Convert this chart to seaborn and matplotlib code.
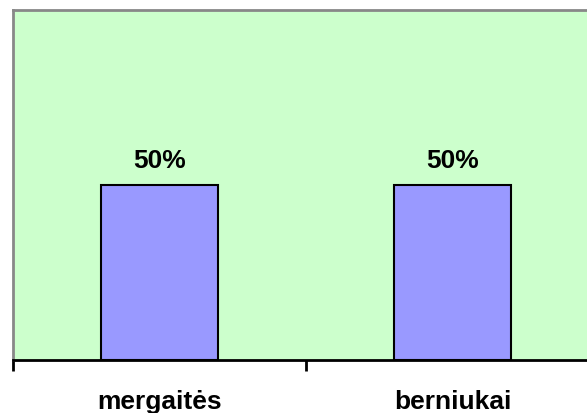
import matplotlib
matplotlib.use("Agg")
import matplotlib.pyplot as plt
import seaborn as sns
import pandas as pd

categories = ["mergaitės", "berniukai"]
values = [0.5, 0.5]
value_labels = ["50%", "50%"]

sns.set_theme(style="white")
plt.rcParams['font.family'] = ['Liberation Sans', 'DejaVu Sans']
plt.rcParams['text.color'] = 'black'
plt.rcParams['xtick.color'] = 'black'

W, H = 587, 414
fig = plt.figure(figsize=(W / 100, H / 100), dpi=100)
ax = fig.add_axes([13 / W, (H - 361) / H, 586 / W, 350 / H])
ax.set_facecolor("#CCFFCC")

df = pd.DataFrame({"cat": categories, "val": values})
sns.barplot(data=df, x="cat", y="val", ax=ax, color="#9999FF", saturation=1,
            width=0.4, edgecolor="black", linewidth=1.5)

ax.set_xlim(-0.5, 1.5)
ax.set_ylim(0, 1)
ax.set_yticks([])
ax.set_xlabel("")
ax.set_ylabel("")

ax.set_xticks([-0.5, 0.5, 1.5])
ax.set_xticklabels([])
ax.set_xticks([0, 1], minor=True)
ax.set_xticklabels(categories, minor=True, fontsize=19, fontweight="bold",
                   color="black")
ax.tick_params(axis="x", which="major", direction="out", length=8, width=2,
               color="black", bottom=True)
ax.tick_params(axis="x", which="minor", length=0, pad=21)

for s in ["top", "left"]:
    ax.spines[s].set_color("#888888")
    ax.spines[s].set_linewidth(2)
ax.spines["right"].set_visible(False)
ax.spines["bottom"].set_color("black")
ax.spines["bottom"].set_linewidth(2)

for i, (v, lab) in enumerate(zip(values, value_labels)):
    ax.annotate(lab, (i, v), xytext=(0, 9), textcoords="offset points",
                ha="center", va="bottom", fontsize=19, fontweight="bold",
                color="black")

fig.savefig("out.png", dpi=100)
